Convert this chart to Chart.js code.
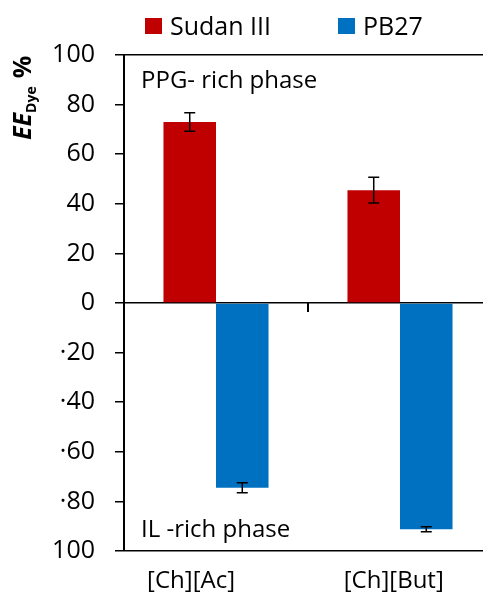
<!DOCTYPE html>
<html>
<head>
<meta charset="utf-8">
<script src="https://cdn.jsdelivr.net/npm/chart.js@4.4.0/dist/chart.umd.min.js"></script>
<style>
  html, body { margin: 0; padding: 0; background: #fff; overflow: hidden; }
  #wrap { position: relative; width: 500px; height: 594px; }
</style>
</head>
<body>
<div id="wrap"><canvas id="c"></canvas></div>
<script>
// Extraction efficiency of each dye into the two phases (%),
// positive = PPG-rich phase, negative = IL-rich phase.
const categories = ['[Ch][Ac]        ', '[Ch][But]  '];
const seriesNames = ['Sudan III', 'PB27'];
const sudanValues = [73.0, 45.5];
const sudanErrors = [3.7, 5.2];
const pb27Values = [-74.5, -91.2];
const pb27Errors = [2.0, 1.0];
const yTickValues = [-100, -80, -60, -40, -20, 0, 20, 40, 60, 80, 100];
const phaseNotes = ['PPG- rich phase', 'IL -rich phase'];

const FONT = 'Open Sans';
const INK = '#000';

// Error bars on top of each bar, from the dataset's own values
const errorBarPlugin = {
  id: 'errorBars',
  afterDatasetsDraw(chart) {
    const ctx = chart.ctx;
    const yScale = chart.scales.y;
    chart.data.datasets.forEach((ds, i) => {
      const meta = chart.getDatasetMeta(i);
      if (!ds.errorBars) return;
      meta.data.forEach((bar, j) => {
        const v = ds.data[j];
        const e = ds.errorBars[j];
        const yHi = yScale.getPixelForValue(v + e);
        const yLo = yScale.getPixelForValue(v - e);
        const half = 5.5;
        ctx.save();
        ctx.strokeStyle = INK;
        ctx.lineWidth = 1.5;
        ctx.beginPath();
        ctx.moveTo(bar.x, yHi); ctx.lineTo(bar.x, yLo);
        ctx.moveTo(bar.x - half, yHi); ctx.lineTo(bar.x + half, yHi);
        ctx.moveTo(bar.x - half, yLo); ctx.lineTo(bar.x + half, yLo);
        ctx.stroke();
        ctx.restore();
      });
    });
  }
};

// Category divider tick on the zero line, phase notes, axis title and legend
const decorPlugin = {
  id: 'decor',
  afterDraw(chart) {
    const ctx = chart.ctx;
    const xs = chart.scales.x, ys = chart.scales.y;
    const area = chart.chartArea;

    // divider tick between the two categories, hanging from the zero line
    const xMid = (xs.getPixelForValue(0) + xs.getPixelForValue(1)) / 2;
    const y0 = ys.getPixelForValue(0);
    ctx.save();
    ctx.strokeStyle = INK;
    ctx.lineWidth = 2;
    ctx.beginPath();
    ctx.moveTo(xMid, y0);
    ctx.lineTo(xMid, y0 + 9);
    ctx.stroke();
    ctx.restore();

    // phase notes
    ctx.save();
    ctx.fillStyle = INK;
    ctx.font = `24px "${FONT}"`;
    ctx.textBaseline = 'alphabetic';
    ctx.textAlign = 'left';
    ctx.fillText(phaseNotes[0], area.left + 17, area.top + 33);
    ctx.fillText(phaseNotes[1], area.left + 17, area.bottom - 14);
    ctx.restore();

    // y axis title: EE with subscript Dye, then %
    ctx.save();
    ctx.translate(31, 140);
    ctx.rotate(-Math.PI / 2);
    ctx.fillStyle = INK;
    ctx.textBaseline = 'alphabetic';
    ctx.textAlign = 'left';
    ctx.font = `italic bold 25px "${FONT}"`;
    ctx.fillText('EE', 0, 0);
    let x = ctx.measureText('EE').width;
    ctx.font = `bold 14px "${FONT}"`;
    ctx.fillText('Dye', x, 5);
    x += ctx.measureText('Dye').width + 8;
    ctx.font = `bold 25px "${FONT}"`;
    ctx.fillText('%', x, 0);
    ctx.restore();

    // legend
    ctx.save();
    ctx.font = `25px "${FONT}"`;
    ctx.textBaseline = 'alphabetic';
    ctx.textAlign = 'left';
    let lx = 145;
    chart.data.datasets.forEach((ds) => {
      ctx.fillStyle = ds.backgroundColor;
      ctx.fillRect(lx, 18, 17, 16);
      ctx.fillStyle = INK;
      ctx.fillText(ds.label, lx + 25, 35);
      lx += 25 + ctx.measureText(ds.label).width + 67;
    });
    ctx.restore();
  }
};

new Chart(document.getElementById('c'), {
  type: 'bar',
  data: {
    labels: categories,
    datasets: [
      { label: seriesNames[0], data: sudanValues, errorBars: sudanErrors,
        backgroundColor: '#C00000', borderWidth: 0 },
      { label: seriesNames[1], data: pb27Values, errorBars: pb27Errors,
        backgroundColor: '#0070C0', borderWidth: 0 }
    ]
  },
  options: {
    responsive: true,
    maintainAspectRatio: false,
    animation: false,
    layout: { padding: { top: 55, right: 8, left: 0, bottom: 0 } },
    datasets: { bar: { categoryPercentage: 0.571, barPercentage: 1.0 } },
    plugins: {
      legend: { display: false },
      tooltip: { enabled: false }
    },
    scales: {
      x: {
        offset: true,
        grid: { display: false },
        border: { display: false },
        ticks: {
          color: INK,
          font: { family: FONT, size: 24 },
          padding: 8,
          maxRotation: 0,
          autoSkip: false
        },
        afterFit(s) { s.height = 43; }
      },
      y: {
        min: -100,
        max: 100,
        afterBuildTicks(s) { s.ticks = yTickValues.map(v => ({ value: v })); },
        ticks: {
          color: INK,
          font: { family: FONT, size: 25 },
          padding: 20,
          callback: (v) => (v < 0 && v > -100 ? '·' + Math.abs(v) : String(Math.abs(v)))
        },
        grid: {
          color: (c) => ([100, 0, -100].includes(c.tick && c.tick.value) ? INK : 'rgba(0,0,0,0)'),
          lineWidth: 1.5,
          tickColor: INK,
          tickWidth: 1.5,
          tickLength: 9,
          drawTicks: true
        },
        border: { display: true, color: INK, width: 2 },
        afterFit(s) { s.width = 124; }
      }
    }
  },
  plugins: [errorBarPlugin, decorPlugin]
});
</script>
</body>
</html>
